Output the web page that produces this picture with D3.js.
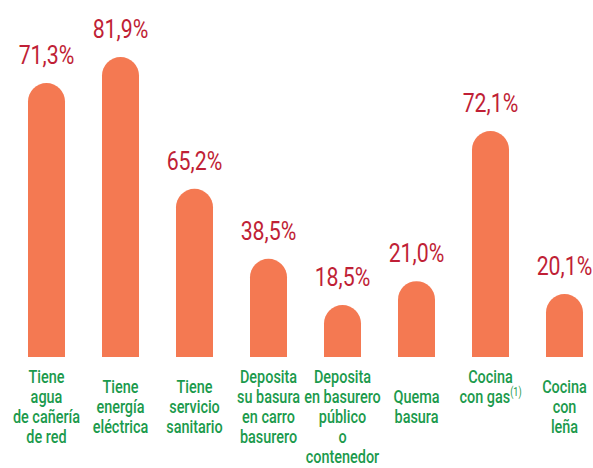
<!DOCTYPE html>
<html><head><meta charset="utf-8">
<script src="https://cdn.jsdelivr.net/npm/d3@7"></script>
<style>
body{margin:0;background:#fff;}
svg{display:block;}
</style></head>
<body>
<svg id="c" width="593" height="468"></svg>
<script>
// Categories (line-broken as in the picture)
const categories = ["agua","energia","sanitario","carro","contenedor","quema","gas","lena"];
const categoryLines = [
  ["Tiene","agua","de cañería","de red"],
  ["Tiene","energía","eléctrica"],
  ["Tiene","servicio","sanitario"],
  ["Deposita","su basura","en carro","basurero"],
  ["Deposita","en basurero","público","o","contenedor"],
  ["Quema","basura"],
  ["Cocina","con gas"],
  ["Cocina","con","leña"]
];
const labelAnchor = ["mid","mid","mid","mid","mid","mid","top","mid"];
// Printed percentages
const values = [71.3, 81.9, 65.2, 38.5, 18.5, 21.0, 72.1, 20.1];
// Bar magnitudes as drawn in the picture (the infographic does not draw bars to scale)
const drawnValues = [74.8, 81.9, 45.9, 26.8, 14.2, 20.7, 61.7, 17.2];

const svg = d3.select("#c");
const fontFamily = "Roboto,'DejaVu Sans',sans-serif";
const x = d3.scaleBand().domain(categories).range([28, 583]).paddingInner(0.5).paddingOuter(0);
const y = d3.scaleLinear().domain([0, 81.9]).range([357, 57]);

const fmt = v => d3.format(".1f")(v).replace(".", ",") + "%";

function barPath(x0, w, top, base) {
  const r = w / 2;
  return `M${x0},${base}V${top + r}A${r},${r} 0 0 1 ${x0 + w},${top + r}V${base}Z`;
}

const g = svg.append("g");
g.selectAll("path.bar").data(categories).join("path")
  .attr("class", "bar")
  .attr("fill", "#F47952")
  .attr("d", (c, i) => barPath(x(c), x.bandwidth(), y(drawnValues[i]), y(0)));

g.selectAll("text.val").data(categories).join("text")
  .attr("class", "val")
  .attr("transform", (c, i) => `translate(${x(c) + x.bandwidth() / 2},${y(drawnValues[i]) - 19}) scale(0.82,1)`)
  .attr("text-anchor", "middle")
  .attr("font-family", fontFamily)
  .attr("font-size", 26)
  .attr("fill", "#C01F36")
  .text((c, i) => fmt(values[i]));

const lh = 20;
g.selectAll("text.cat").data(categories).join("text")
  .attr("class", "cat")
  .attr("text-anchor", "middle")
  .attr("transform", c => `translate(${x(c) + x.bandwidth() / 2},0) scale(0.76,1)`)
  .attr("font-family", fontFamily)
  .attr("font-weight", 500)
  .attr("font-size", 19)
  .attr("fill", "#1B9A4C")
  .each(function (c, i) {
    const lines = categoryLines[i];
    const n = lines.length;
    const first = labelAnchor[i] === "top" ? 383 : Math.max(383, 413 - (n - 1) * lh / 2);
    const t = d3.select(this);
    lines.forEach((ln, j) => {
      t.append("tspan")
        .attr("x", 0)
        .attr("y", first + j * lh)
        .text(ln);
      if (c === "gas" && j === 1) {
        t.append("tspan").attr("font-size", 12).attr("font-weight", 400).attr("dy", -7).text("(1)");
      }
    });
  });
</script>
</body></html>
